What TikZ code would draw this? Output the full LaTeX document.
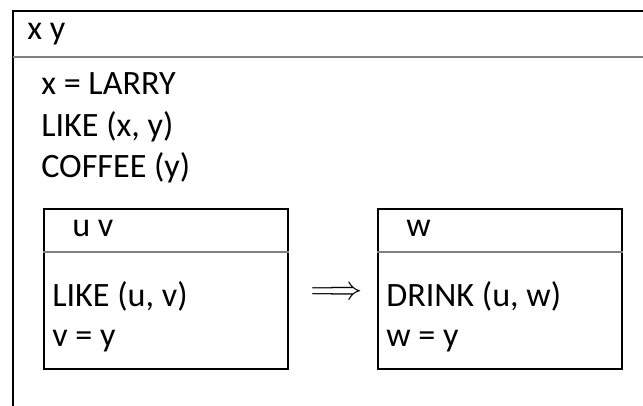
\documentclass[tikz,border=0pt]{standalone}
\usepackage{fontspec}
\setmainfont{Carlito}
\usepackage{tikz}
\usetikzlibrary{positioning,calc}

\begin{document}
\begin{tikzpicture}[
  x=0.75pt,y=-0.75pt,
  frame/.style={draw=black,line width=1.5pt},
  sep/.style={draw=black!50,line width=1.2pt},
  drs/.style={draw=black,line width=1.5pt,minimum width=183pt,minimum height=120pt,inner sep=0pt,anchor=north west},
  txt/.style={inner sep=0pt,anchor=base west,font=\fontsize{25.6}{31}\selectfont}
]
\useasboundingbox (0,0) rectangle (643,406);
% outer box, open to the right and below
\coordinate (tl) at (13,11);
\coordinate (tr) at (643,11);
\coordinate (bl) at (13,406);
\coordinate (hl) at (13,57);
\coordinate (hr) at (643,57);
\draw[frame] (tr) -- (tl) -- (bl);
\draw[sep] (hl) -- (hr);
\node[txt] (vars) at (27,40) {x y};
\node[txt] (larry) at (41,95) {x = LARRY};
\node[txt] (like) at (41,137) {LIKE (x, y)};
\node[txt] (coffee) at (41,178) {COFFEE (y)};
% antecedent box
\node[drs] (ante) at (42.7,208) {};
\draw[sep] ($(ante.north west)+(0,44)$) -- ($(ante.north east)+(0,44)$);
\node[txt] (avars) at (72,237) {u v};
\node[txt] (alike) at (52,306) {LIKE (u, v)};
\node[txt] (aeq) at (52,346) {v = y};
% consequent box
\node[drs] (cons) at (377,208) {};
\draw[sep] ($(cons.north west)+(0,44)$) -- ($(cons.north east)+(0,44)$);
\node[txt] (cvars) at (406,237) {w};
\node[txt] (cdrink) at (386,306) {DRINK (u, w)};
\node[txt] (ceq) at (386,346) {w = y};
% implication between the boxes
\node[inner sep=0pt,font=\fontsize{27}{31}\selectfont] (impl) at (336.5,293) {$\Longrightarrow$};
\end{tikzpicture}
\end{document}
